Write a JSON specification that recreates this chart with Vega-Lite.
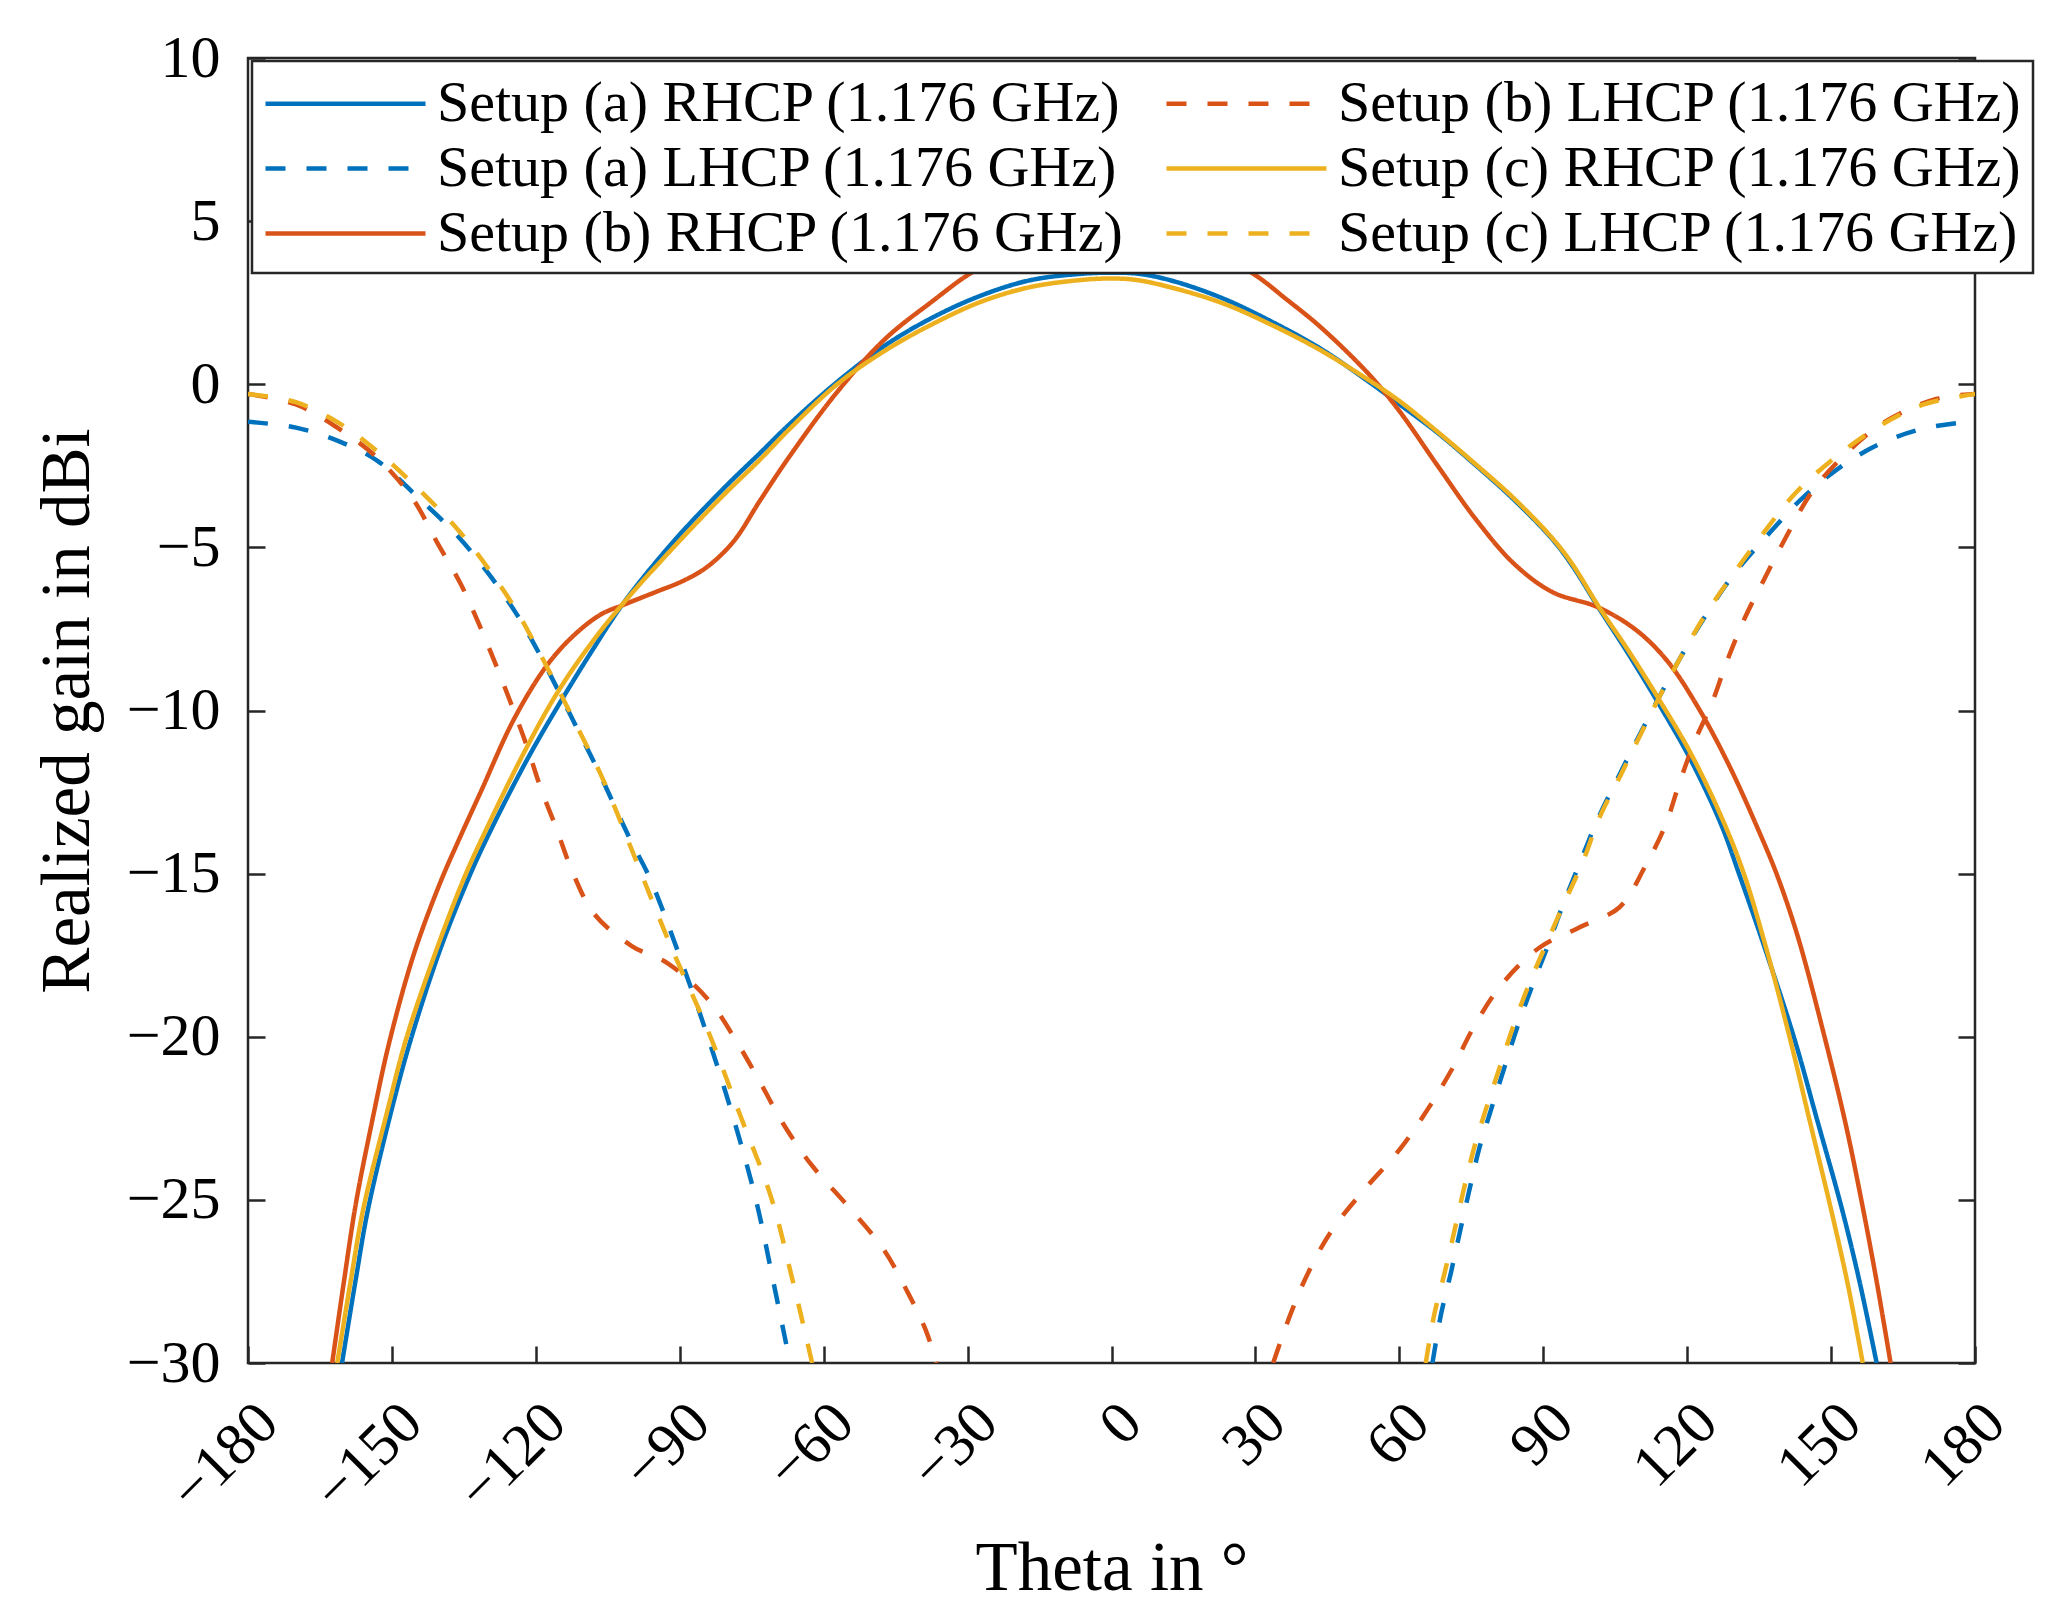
{
  "$schema": "https://vega.github.io/schema/vega-lite/v6.json",
  "description": "Realized gain vs theta, setups (a)-(c), RHCP and LHCP at 1.176 GHz",
  "width": 1727,
  "height": 1305,
  "autosize": {"type": "none"},
  "padding": {"left": 248, "top": 58, "right": 94, "bottom": 247},
  "background": "white",
  "config": {
    "view": {"stroke": "#262626", "strokeWidth": 2.5},
    "font": "Liberation Serif",
    "axis": {
      "grid": false,
      "domain": false,
      "tickColor": "#262626",
      "tickWidth": 2.5,
      "tickSize": -17,
      "labelFont": "Liberation Serif",
      "labelFontSize": 60,
      "labelColor": "#000000",
      "titleFont": "Liberation Serif",
      "titleFontSize": 69,
      "titleFontWeight": "normal",
      "titleColor": "#000000"
    },
    "legend": {
      "orient": "none",
      "legendX": 4,
      "legendY": 3,
      "zindex": 1,
      "columns": 2,
      "columnPadding": 32,
      "rowPadding": 3,
      "padding": 10,
      "fillColor": "white",
      "strokeColor": "#262626",
      "strokeWidth": 2.5,
      "symbolType": "M-2.667,0H2.667",
      "symbolSize": 3600,
      "symbolStrokeWidth": 4.5,
      "symbolOffset": 51,
      "labelOffset": 59,
      "labelFont": "Liberation Serif",
      "labelFontSize": 58,
      "labelColor": "#000000",
      "labelLimit": 0
    }
  },
  "data": {
    "values": [
      {"s": "aR", "t": -160.4, "g": -30}, {"s": "aR", "t": -157.5, "g": -27.4}, {"s": "aR", "t": -155, "g": -25.3},
      {"s": "aR", "t": -150, "g": -22.2}, {"s": "aR", "t": -146.1, "g": -20.1}, {"s": "aR", "t": -140, "g": -17.35},
      {"s": "aR", "t": -134.2, "g": -15.2}, {"s": "aR", "t": -130, "g": -13.85}, {"s": "aR", "t": -121.8, "g": -11.5},
      {"s": "aR", "t": -114.8, "g": -9.72}, {"s": "aR", "t": -107.9, "g": -8.08}, {"s": "aR", "t": -101.7, "g": -6.7},
      {"s": "aR", "t": -91.3, "g": -4.82}, {"s": "aR", "t": -80.9, "g": -3.2}, {"s": "aR", "t": -73.2, "g": -2.1},
      {"s": "aR", "t": -67.3, "g": -1.25}, {"s": "aR", "t": -57.2, "g": 0.07}, {"s": "aR", "t": -47.1, "g": 1.2},
      {"s": "aR", "t": -37.1, "g": 2.06}, {"s": "aR", "t": -27, "g": 2.73}, {"s": "aR", "t": -16.9, "g": 3.19},
      {"s": "aR", "t": -6.8, "g": 3.38}, {"s": "aR", "t": 0, "g": 3.42}, {"s": "aR", "t": 6, "g": 3.38},
      {"s": "aR", "t": 13.4, "g": 3.14}, {"s": "aR", "t": 23.4, "g": 2.62}, {"s": "aR", "t": 33.5, "g": 1.91},
      {"s": "aR", "t": 43.6, "g": 1.09}, {"s": "aR", "t": 53.7, "g": 0.07}, {"s": "aR", "t": 59.9, "g": -0.6},
      {"s": "aR", "t": 67.9, "g": -1.48}, {"s": "aR", "t": 75.9, "g": -2.48}, {"s": "aR", "t": 83.9, "g": -3.54},
      {"s": "aR", "t": 91.9, "g": -4.75}, {"s": "aR", "t": 96, "g": -5.55}, {"s": "aR", "t": 101.5, "g": -6.84},
      {"s": "aR", "t": 107.9, "g": -8.3}, {"s": "aR", "t": 114.3, "g": -9.85}, {"s": "aR", "t": 120.7, "g": -11.5},
      {"s": "aR", "t": 127.1, "g": -13.5}, {"s": "aR", "t": 130.8, "g": -15.0}, {"s": "aR", "t": 136, "g": -17.2},
      {"s": "aR", "t": 142.3, "g": -20.04}, {"s": "aR", "t": 147, "g": -22.5}, {"s": "aR", "t": 152.3, "g": -25.3},
      {"s": "aR", "t": 156, "g": -27.55}, {"s": "aR", "t": 159.5, "g": -30},

      {"s": "aL", "t": -180, "g": -1.15}, {"s": "aL", "t": -170, "g": -1.33}, {"s": "aL", "t": -161, "g": -1.75},
      {"s": "aL", "t": -153, "g": -2.35}, {"s": "aL", "t": -144.7, "g": -3.45}, {"s": "aL", "t": -136.3, "g": -4.65},
      {"s": "aL", "t": -129.9, "g": -5.8}, {"s": "aL", "t": -124.2, "g": -7.0}, {"s": "aL", "t": -119.5, "g": -8.2},
      {"s": "aL", "t": -110.7, "g": -10.75}, {"s": "aL", "t": -106.5, "g": -12.0}, {"s": "aL", "t": -102.9, "g": -13.15},
      {"s": "aL", "t": -100, "g": -14.05}, {"s": "aL", "t": -96.2, "g": -15.15}, {"s": "aL", "t": -90.1, "g": -17.5},
      {"s": "aL", "t": -84.1, "g": -20.03}, {"s": "aL", "t": -78.6, "g": -22.6}, {"s": "aL", "t": -74, "g": -25.07},
      {"s": "aL", "t": -70.5, "g": -27.5}, {"s": "aL", "t": -67, "g": -30},
      {"s": "aL", "h": 1, "t": 66.9, "g": -30}, {"s": "aL", "h": 1, "t": 68.7, "g": -28.5}, {"s": "aL", "h": 1, "t": 70.8, "g": -27.2},
      {"s": "aL", "h": 1, "t": 72.6, "g": -26}, {"s": "aL", "h": 1, "t": 74.6, "g": -24.7}, {"s": "aL", "h": 1, "t": 76.7, "g": -23.4},
      {"s": "aL", "h": 1, "t": 79.3, "g": -22.15}, {"s": "aL", "h": 1, "t": 82, "g": -20.9}, {"s": "aL", "h": 1, "t": 84.6, "g": -19.7},
      {"s": "aL", "h": 1, "t": 87.8, "g": -18.4}, {"s": "aL", "h": 1, "t": 91, "g": -17.2}, {"s": "aL", "h": 1, "t": 94, "g": -16.0},
      {"s": "aL", "h": 1, "t": 97.7, "g": -14.65}, {"s": "aL", "h": 1, "t": 101.3, "g": -13.35}, {"s": "aL", "h": 1, "t": 105.6, "g": -12.05},
      {"s": "aL", "h": 1, "t": 109.9, "g": -10.8}, {"s": "aL", "h": 1, "t": 114.3, "g": -9.55}, {"s": "aL", "h": 1, "t": 118.5, "g": -8.4},
      {"s": "aL", "h": 1, "t": 123.8, "g": -7.1}, {"s": "aL", "h": 1, "t": 129.6, "g": -5.85}, {"s": "aL", "h": 1, "t": 137.1, "g": -4.57},
      {"s": "aL", "h": 1, "t": 144.3, "g": -3.45}, {"s": "aL", "h": 1, "t": 153.1, "g": -2.42}, {"s": "aL", "h": 1, "t": 161.5, "g": -1.74},
      {"s": "aL", "h": 1, "t": 170.1, "g": -1.33}, {"s": "aL", "h": 1, "t": 180, "g": -1.13},

      {"s": "bR", "t": -162.45, "g": -30}, {"s": "bR", "t": -160, "g": -27.5}, {"s": "bR", "t": -157.5, "g": -25.1},
      {"s": "bR", "t": -154, "g": -22.5}, {"s": "bR", "t": -150.6, "g": -20.2}, {"s": "bR", "t": -145.5, "g": -17.5},
      {"s": "bR", "t": -140, "g": -15.3}, {"s": "bR", "t": -136, "g": -13.95}, {"s": "bR", "t": -131.5, "g": -12.5},
      {"s": "bR", "t": -124.5, "g": -10.25}, {"s": "bR", "t": -117.6, "g": -8.6}, {"s": "bR", "t": -112.1, "g": -7.7},
      {"s": "bR", "t": -106.5, "g": -7.06}, {"s": "bR", "t": -101.7, "g": -6.76}, {"s": "bR", "t": -94.7, "g": -6.35},
      {"s": "bR", "t": -89.2, "g": -6.02}, {"s": "bR", "t": -84.3, "g": -5.6}, {"s": "bR", "t": -78.8, "g": -4.82},
      {"s": "bR", "t": -73.2, "g": -3.55}, {"s": "bR", "t": -67.3, "g": -2.25}, {"s": "bR", "t": -57.2, "g": -0.24},
      {"s": "bR", "t": -47.1, "g": 1.4}, {"s": "bR", "t": -37.1, "g": 2.57}, {"s": "bR", "t": -29.5, "g": 3.39},
      {"s": "bR", "t": -20, "g": 4.1}, {"s": "bR", "t": -10, "g": 4.5}, {"s": "bR", "t": 0, "g": 4.6},
      {"s": "bR", "t": 10, "g": 4.5}, {"s": "bR", "t": 20, "g": 4.1}, {"s": "bR", "t": 29.5, "g": 3.39},
      {"s": "bR", "t": 36.5, "g": 2.6}, {"s": "bR", "t": 43.6, "g": 1.75}, {"s": "bR", "t": 53.7, "g": 0.3},
      {"s": "bR", "t": 59.9, "g": -0.8}, {"s": "bR", "t": 67.9, "g": -2.48}, {"s": "bR", "t": 75.9, "g": -4.13},
      {"s": "bR", "t": 83.9, "g": -5.5}, {"s": "bR", "t": 91.9, "g": -6.37}, {"s": "bR", "t": 101.5, "g": -6.84},
      {"s": "bR", "t": 109.5, "g": -7.55}, {"s": "bR", "t": 115.9, "g": -8.49}, {"s": "bR", "t": 122.3, "g": -9.91},
      {"s": "bR", "t": 128.7, "g": -11.67}, {"s": "bR", "t": 135.1, "g": -13.75}, {"s": "bR", "t": 138.8, "g": -15.07},
      {"s": "bR", "t": 143.1, "g": -16.95}, {"s": "bR", "t": 148.7, "g": -20.04}, {"s": "bR", "t": 153, "g": -22.65},
      {"s": "bR", "t": 156.3, "g": -25.0}, {"s": "bR", "t": 159.5, "g": -27.5}, {"s": "bR", "t": 162.4, "g": -30},

      {"s": "bL", "t": -180, "g": -0.3}, {"s": "bL", "t": -170, "g": -0.62}, {"s": "bL", "t": -161.3, "g": -1.34},
      {"s": "bL", "t": -153, "g": -2.26}, {"s": "bL", "t": -145.7, "g": -3.5}, {"s": "bL", "t": -140.5, "g": -4.87},
      {"s": "bL", "t": -135.6, "g": -6.14}, {"s": "bL", "t": -131.8, "g": -7.37}, {"s": "bL", "t": -128.3, "g": -8.61},
      {"s": "bL", "t": -124.9, "g": -9.89}, {"s": "bL", "t": -121.8, "g": -11.12}, {"s": "bL", "t": -119, "g": -12.37},
      {"s": "bL", "t": -115.7, "g": -13.62}, {"s": "bL", "t": -112.3, "g": -14.97}, {"s": "bL", "t": -107.8, "g": -16.24},
      {"s": "bL", "t": -100, "g": -17.22}, {"s": "bL", "t": -92.5, "g": -17.75}, {"s": "bL", "t": -83.9, "g": -18.89},
      {"s": "bL", "t": -78.1, "g": -20.16}, {"s": "bL", "t": -73.3, "g": -21.38}, {"s": "bL", "t": -68.5, "g": -22.65},
      {"s": "bL", "t": -62.7, "g": -23.9}, {"s": "bL", "t": -54.9, "g": -25.2}, {"s": "bL", "t": -47.6, "g": -26.5},
      {"s": "bL", "t": -42.6, "g": -27.8}, {"s": "bL", "t": -38.7, "g": -29}, {"s": "bL", "t": -36.5, "g": -30},
      {"s": "bL", "h": 1, "t": 33.7, "g": -30}, {"s": "bL", "h": 1, "t": 37.4, "g": -28.47}, {"s": "bL", "h": 1, "t": 41.1, "g": -27.2},
      {"s": "bL", "h": 1, "t": 45.9, "g": -25.94}, {"s": "bL", "h": 1, "t": 52.5, "g": -24.72}, {"s": "bL", "h": 1, "t": 60.2, "g": -23.43},
      {"s": "bL", "h": 1, "t": 66.1, "g": -22.18}, {"s": "bL", "h": 1, "t": 71.1, "g": -20.96}, {"s": "bL", "h": 1, "t": 75.6, "g": -19.68},
      {"s": "bL", "h": 1, "t": 81.1, "g": -18.44}, {"s": "bL", "h": 1, "t": 89.1, "g": -17.28}, {"s": "bL", "h": 1, "t": 97.4, "g": -16.66},
      {"s": "bL", "h": 1, "t": 105.9, "g": -16.03}, {"s": "bL", "h": 1, "t": 111.2, "g": -14.79}, {"s": "bL", "h": 1, "t": 115.5, "g": -13.5},
      {"s": "bL", "h": 1, "t": 118.3, "g": -12.26}, {"s": "bL", "h": 1, "t": 121.5, "g": -10.97}, {"s": "bL", "h": 1, "t": 125.1, "g": -9.79},
      {"s": "bL", "h": 1, "t": 128.3, "g": -8.49}, {"s": "bL", "h": 1, "t": 131.9, "g": -7.2}, {"s": "bL", "h": 1, "t": 135.9, "g": -6.02},
      {"s": "bL", "h": 1, "t": 140.7, "g": -4.66}, {"s": "bL", "h": 1, "t": 146, "g": -3.3}, {"s": "bL", "h": 1, "t": 151.9, "g": -2.3},
      {"s": "bL", "h": 1, "t": 160.7, "g": -1.2}, {"s": "bL", "h": 1, "t": 171.9, "g": -0.45}, {"s": "bL", "h": 1, "t": 180, "g": -0.3},

      {"s": "cR", "t": -161.4, "g": -30}, {"s": "cR", "t": -158.5, "g": -27.4}, {"s": "cR", "t": -156, "g": -25.3},
      {"s": "cR", "t": -151, "g": -22.3}, {"s": "cR", "t": -147.1, "g": -20.1}, {"s": "cR", "t": -141, "g": -17.45},
      {"s": "cR", "t": -135, "g": -15.15}, {"s": "cR", "t": -131, "g": -13.85}, {"s": "cR", "t": -122.5, "g": -11.3},
      {"s": "cR", "t": -115.5, "g": -9.45}, {"s": "cR", "t": -108.5, "g": -7.95}, {"s": "cR", "t": -101.7, "g": -6.7},
      {"s": "cR", "t": -91.3, "g": -5}, {"s": "cR", "t": -80.9, "g": -3.4}, {"s": "cR", "t": -73.2, "g": -2.3},
      {"s": "cR", "t": -67.3, "g": -1.4}, {"s": "cR", "t": -57.2, "g": 0}, {"s": "cR", "t": -47.1, "g": 1.04},
      {"s": "cR", "t": -37.1, "g": 1.86}, {"s": "cR", "t": -27, "g": 2.54}, {"s": "cR", "t": -16.9, "g": 2.98},
      {"s": "cR", "t": -6.8, "g": 3.19}, {"s": "cR", "t": -1, "g": 3.24}, {"s": "cR", "t": 5, "g": 3.2},
      {"s": "cR", "t": 13.4, "g": 2.93}, {"s": "cR", "t": 23.4, "g": 2.47}, {"s": "cR", "t": 33.5, "g": 1.81},
      {"s": "cR", "t": 43.6, "g": 1.04}, {"s": "cR", "t": 53.7, "g": 0.12}, {"s": "cR", "t": 59.9, "g": -0.5},
      {"s": "cR", "t": 67.9, "g": -1.45}, {"s": "cR", "t": 75.9, "g": -2.45}, {"s": "cR", "t": 83.9, "g": -3.5},
      {"s": "cR", "t": 91.9, "g": -4.72}, {"s": "cR", "t": 96, "g": -5.5}, {"s": "cR", "t": 101.5, "g": -6.8},
      {"s": "cR", "t": 107.9, "g": -8.2}, {"s": "cR", "t": 114.3, "g": -9.7}, {"s": "cR", "t": 120.7, "g": -11.3},
      {"s": "cR", "t": 127.1, "g": -13.25}, {"s": "cR", "t": 131.7, "g": -14.95}, {"s": "cR", "t": 136.5, "g": -17.3},
      {"s": "cR", "t": 141.4, "g": -20.04}, {"s": "cR", "t": 145.5, "g": -22.55}, {"s": "cR", "t": 150, "g": -25.3},
      {"s": "cR", "t": 153.5, "g": -27.6}, {"s": "cR", "t": 156.6, "g": -30},

      {"s": "cL", "t": -180, "g": -0.3}, {"s": "cL", "t": -170, "g": -0.55}, {"s": "cL", "t": -161, "g": -1.19},
      {"s": "cL", "t": -153, "g": -2.06}, {"s": "cL", "t": -144.7, "g": -3.18}, {"s": "cL", "t": -136.3, "g": -4.45},
      {"s": "cL", "t": -129.9, "g": -5.65}, {"s": "cL", "t": -124.2, "g": -6.9}, {"s": "cL", "t": -119.5, "g": -8.15},
      {"s": "cL", "t": -110.7, "g": -10.7}, {"s": "cL", "t": -106.5, "g": -11.95}, {"s": "cL", "t": -102.9, "g": -13.2},
      {"s": "cL", "t": -98.7, "g": -14.75}, {"s": "cL", "t": -91.7, "g": -17.28}, {"s": "cL", "t": -84.1, "g": -19.82},
      {"s": "cL", "t": -77.5, "g": -22.37}, {"s": "cL", "t": -71, "g": -24.9}, {"s": "cL", "t": -66.5, "g": -27.45},
      {"s": "cL", "t": -62.4, "g": -30},
      {"s": "cL", "h": 1, "t": 65.5, "g": -30}, {"s": "cL", "h": 1, "t": 67.3, "g": -28.5}, {"s": "cL", "h": 1, "t": 69.5, "g": -27.2},
      {"s": "cL", "h": 1, "t": 71.4, "g": -26}, {"s": "cL", "h": 1, "t": 73.4, "g": -24.7}, {"s": "cL", "h": 1, "t": 75.6, "g": -23.4},
      {"s": "cL", "h": 1, "t": 78.2, "g": -22.15}, {"s": "cL", "h": 1, "t": 81, "g": -20.9}, {"s": "cL", "h": 1, "t": 83.7, "g": -19.7},
      {"s": "cL", "h": 1, "t": 87, "g": -18.4}, {"s": "cL", "h": 1, "t": 90.5, "g": -17.2}, {"s": "cL", "h": 1, "t": 94.3, "g": -15.92},
      {"s": "cL", "h": 1, "t": 98.3, "g": -14.62}, {"s": "cL", "h": 1, "t": 101.6, "g": -13.32}, {"s": "cL", "h": 1, "t": 105.9, "g": -12.05},
      {"s": "cL", "h": 1, "t": 110.1, "g": -10.79}, {"s": "cL", "h": 1, "t": 114.5, "g": -9.5}, {"s": "cL", "h": 1, "t": 118.7, "g": -8.35},
      {"s": "cL", "h": 1, "t": 123.9, "g": -7.04}, {"s": "cL", "h": 1, "t": 129.7, "g": -5.8}, {"s": "cL", "h": 1, "t": 135.7, "g": -4.6},
      {"s": "cL", "h": 1, "t": 142.5, "g": -3.35}, {"s": "cL", "h": 1, "t": 151.3, "g": -2.19}, {"s": "cL", "h": 1, "t": 160.9, "g": -1.21},
      {"s": "cL", "h": 1, "t": 169.3, "g": -0.62}, {"s": "cL", "h": 1, "t": 180, "g": -0.3}
    ]
  },
  "encoding": {
    "x": {
      "field": "t",
      "type": "quantitative",
      "scale": {"domain": [-180, 180], "nice": false, "zero": false},
      "axis": {
        "values": [-180, -150, -120, -90, -60, -30, 0, 30, 60, 90, 120, 150, 180],
        "labelAngle": -45,
        "labelAlign": "right",
        "labelBaseline": "middle",
        "labelPadding": 67,
        "labelOffset": 20,
        "labelFlush": false,
        "labelOverlap": false,
        "title": "Theta in °",
        "titlePadding": 13
      }
    }
  },
  "layer": [
    {
      "mark": {"type": "line", "strokeWidth": 4.5, "interpolate": "catmull-rom", "clip": true},
      "encoding": {
        "y": {
          "field": "g",
          "type": "quantitative",
          "scale": {"domain": [-30, 10], "nice": false, "zero": false},
          "axis": {
            "values": [-30, -25, -20, -15, -10, -5, 0, 5, 10],
            "labelPadding": 45,
            "labelFlush": false,
            "labelOverlap": false,
            "title": "Realized gain in dBi",
            "titlePadding": 24
          }
        },
        "detail": {"field": "h", "type": "nominal"},
        "color": {
          "field": "s",
          "type": "nominal",
          "scale": {
            "domain": ["aR", "aL", "bR", "bL", "cR", "cL"],
            "range": ["#0072BD", "#0072BD", "#D95319", "#D95319", "#EDB120", "#EDB120"]
          },
          "legend": {
            "title": null,
            "labelExpr": "'Setup (' + substring(datum.label, 0, 1) + ') ' + (substring(datum.label, 1, 2) == 'R' ? 'RHCP' : 'LHCP') + ' (1.176 GHz)'"
          }
        },
        "strokeDash": {
          "field": "s",
          "type": "nominal",
          "scale": {
            "domain": ["aR", "aL", "bR", "bL", "cR", "cL"],
            "range": [[1, 0], [20, 21], [1, 0], [20, 21], [1, 0], [20, 21]]
          },
          "legend": {
            "title": null,
            "labelExpr": "'Setup (' + substring(datum.label, 0, 1) + ') ' + (substring(datum.label, 1, 2) == 'R' ? 'RHCP' : 'LHCP') + ' (1.176 GHz)'"
          }
        }
      }
    },
    {
      "mark": {"type": "line", "opacity": 0, "clip": true},
      "encoding": {
        "detail": {"field": "s", "type": "nominal"},
        "y": {
          "field": "g",
          "type": "quantitative",
          "scale": {"domain": [-30, 10], "nice": false, "zero": false},
          "axis": {
            "orient": "right",
            "values": [-30, -25, -20, -15, -10, -5, 0, 5, 10],
            "labels": false,
            "title": null
          }
        }
      }
    }
  ],
  "resolve": {"axis": {"y": "independent"}}
}
